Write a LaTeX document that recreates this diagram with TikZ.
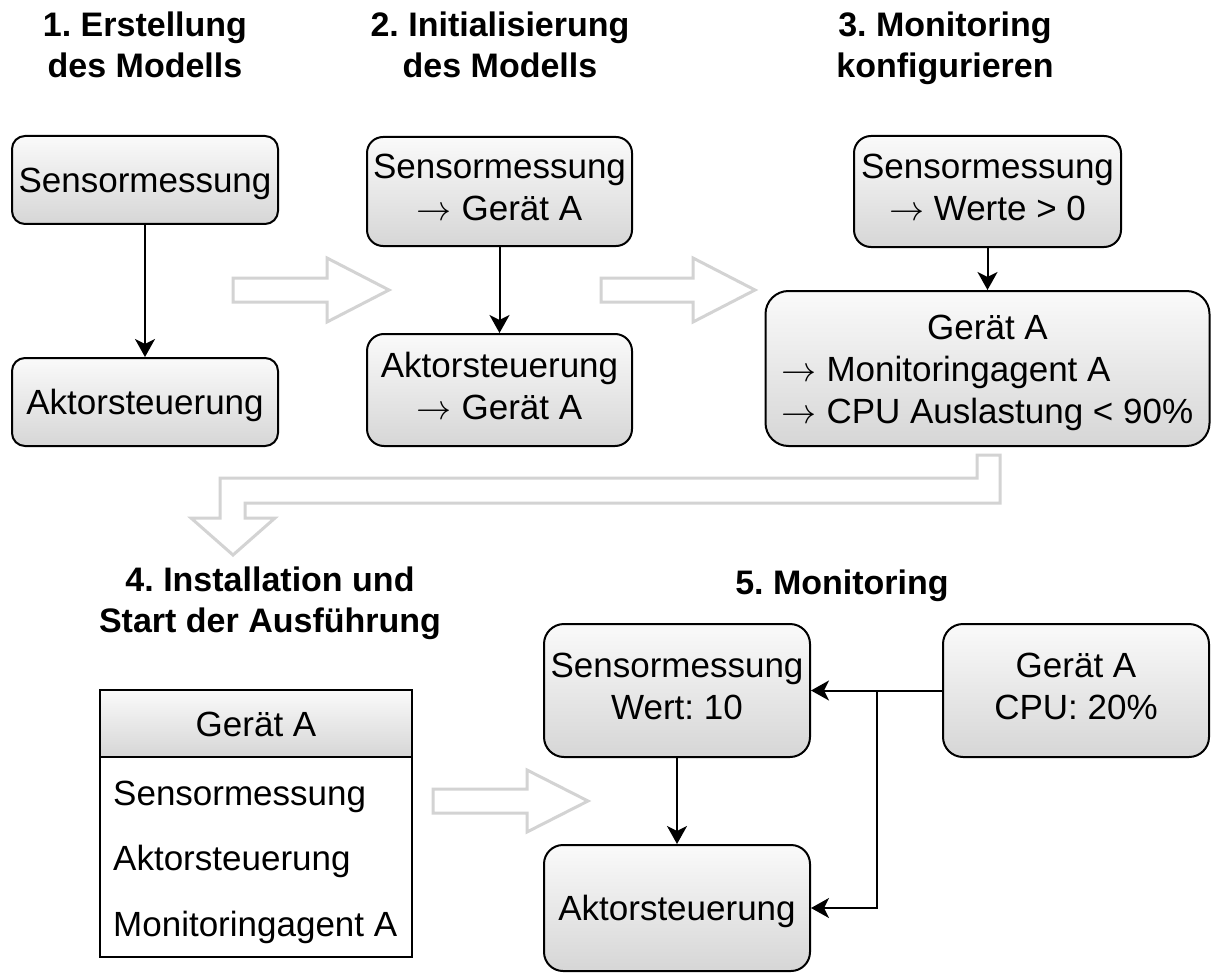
\RequirePackage{fix-cm}
\documentclass[tikz,border=0pt]{standalone}
\usepackage{fontspec}
\setmainfont{Liberation Sans}
\usetikzlibrary{arrows.meta}
\definecolor{hollow}{RGB}{211,211,211}
\definecolor{gtop}{RGB}{250,250,250}
\definecolor{gbot}{RGB}{214,214,214}
\frenchspacing
\newcommand\dstrut{\rule[-0.2\baselineskip]{0pt}{\baselineskip}}
\newcommand\bstrut{\rule[-8.4pt]{0pt}{42pt}}
\tikzset{
  bodyfont/.style={font=\fontsize{35}{42}\selectfont},
  ttl/.style={font=\fontsize{34}{41}\selectfont\bfseries, align=center, inner sep=0pt,
    execute at begin node=\dstrut, execute at end node=\dstrut},
  gbase/.style={draw, line width=2pt, top color=gtop, bottom color=gbot, align=center,
    inner sep=0pt, bodyfont},
  gbox/.style={gbase, execute at begin node=\dstrut, execute at end node=\dstrut},
  conn/.style={line width=2pt, -{Stealth[length=18pt,width=20pt,inset=5pt]}},
  hollowarrow/.style={draw=hollow, line width=3pt, fill=white, line join=miter},
  rowtext/.style={bodyfont, anchor=base west, inner sep=0pt},
}
\begin{document}
\begin{tikzpicture}[x=1pt,y=-1pt]
\useasboundingbox[fill=white] (0,0) rectangle (1214,976);

% titles
\node[ttl] (t1) at (145,49) {1. Erstellung\\des Modells};
\node[ttl] (t2) at (500,49) {2. Initialisierung\\des Modells};
\node[ttl] (t3) at (945,49) {3. Monitoring\\konfigurieren};
\node[ttl] (t4) at (270,604) {4. Installation und\\Start der Ausführung};
\node[ttl] (t5) at (842,582) {5. Monitoring};

% section 1
\node[gbox, rounded corners=13pt, minimum width=266pt, minimum height=88pt] (s1) at (145,180) {Sensormessung};
\node[gbox, rounded corners=13pt, minimum width=266pt, minimum height=88pt] (a1) at (145,402) {Aktorsteuerung};
\draw[conn] (s1) -- (a1);

% section 2
\node[gbox, rounded corners=16pt, minimum width=265pt, minimum height=109pt] (s2) at (499.5,191.5) {Sensormessung\\$\rightarrow$ Gerät A};
\node[gbox, rounded corners=17pt, minimum width=265pt, minimum height=112pt] (a2) at (499.5,390) {Aktorsteuerung\\$\rightarrow$ Gerät A};
\draw[conn] (s2) -- (a2);

% section 3
\node[gbox, rounded corners=17pt, minimum width=267pt, minimum height=111pt] (s3) at (987.5,191.5) {Sensormessung\\$\rightarrow$ Werte > 0};
\node[gbase, rounded corners=23pt, minimum width=444pt, minimum height=155pt] (g3) at (987.5,368.5)
  {\def\arraystretch{0}\begin{tabular}{@{}l@{}}\multicolumn{1}{@{}c@{}}{\bstrut Gerät A}\\
   \bstrut$\rightarrow$ Monitoringagent A\\
   \bstrut$\rightarrow$ CPU Auslastung < 90\%\end{tabular}};
\draw[conn] (s3) -- (g3);

% hollow arrows
\draw[hollowarrow] (233,278) -- (327,278) -- (327,258) -- (389,290) -- (327,322) -- (327,302) -- (233,302) -- cycle;
\draw[hollowarrow] (601,278) -- (693,278) -- (693,258) -- (755,290) -- (693,322) -- (693,302) -- (601,302) -- cycle;
\draw[hollowarrow] (977,455) -- (1000,455) -- (1000,503) -- (245,503) -- (245,518) -- (275,518) -- (233,555) -- (191,518) -- (220,518) -- (220,478) -- (977,478) -- cycle;
\draw[hollowarrow] (433,789) -- (527,789) -- (527,770) -- (588,801) -- (527,832) -- (527,813) -- (433,813) -- cycle;

% section 4: table
\node[gbox, rounded corners=0pt, minimum width=312pt, minimum height=67pt] (hdr) at (256,723.5) {Gerät A};
\node[draw, line width=2pt, fill=white, minimum width=312pt, minimum height=200pt, inner sep=0pt] (tb) at (256,857) {};
\node[rowtext] (r1) at (113,805) {Sensormessung};
\node[rowtext] (r2) at (113,870) {Aktorsteuerung};
\node[rowtext] (r3) at (113,936) {Monitoringagent A};

% section 5
\node[gbox, rounded corners=20pt, minimum width=266pt, minimum height=133pt] (s5) at (677,690.5) {Sensormessung\\Wert: 10};
\node[gbox, rounded corners=19pt, minimum width=266pt, minimum height=126pt] (a5) at (677,908) {Aktorsteuerung};
\node[gbox, rounded corners=20pt, minimum width=266pt, minimum height=133pt] (c5) at (1076,690.5) {Gerät A\\CPU: 20\%};
\draw[conn] (s5) -- (a5);
\draw[conn] (c5.west) -- (s5.east);
\coordinate (j) at (877,690.5);
\draw[conn] (j) |- (a5.east);
\end{tikzpicture}
\end{document}
